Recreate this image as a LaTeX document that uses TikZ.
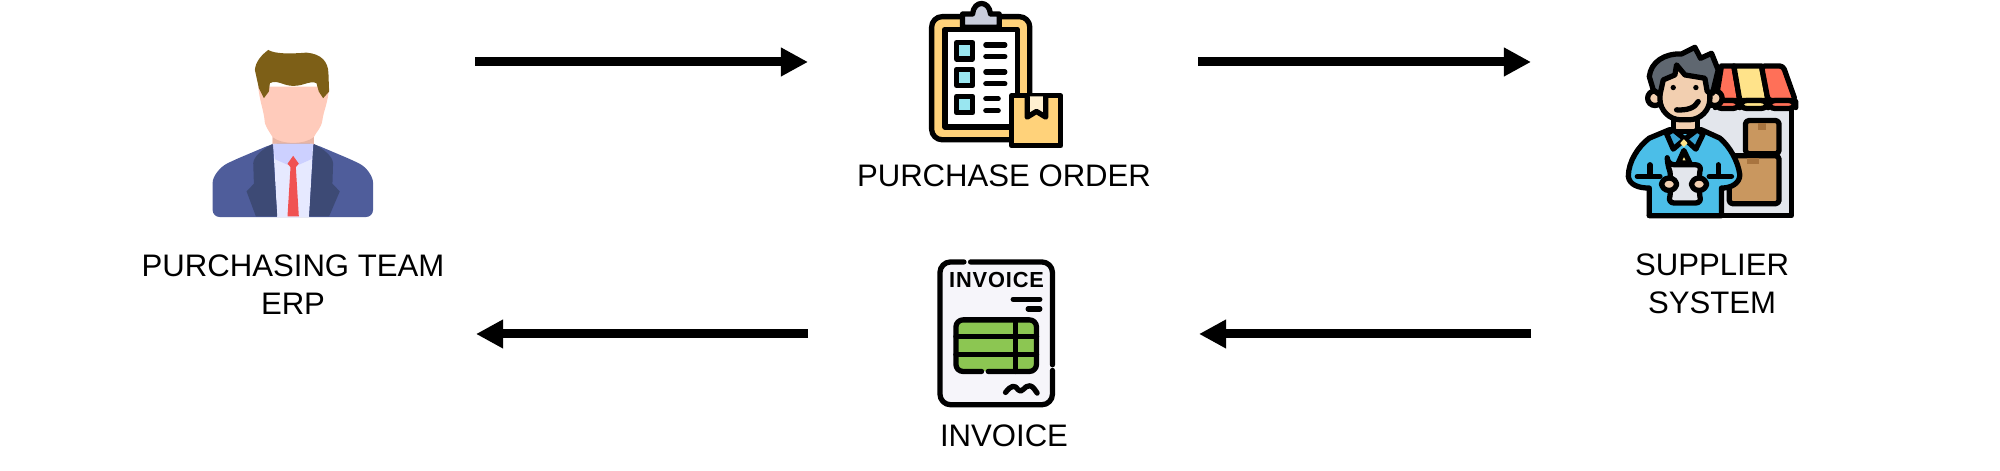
\documentclass[tikz,border=0pt]{standalone}
\usepackage{fontspec}
\setmainfont{Liberation Sans}
\usetikzlibrary{arrows.meta}
\definecolor{hairbrown}{HTML}{7D5F17}
\definecolor{skin}{HTML}{FFCBBB}
\definecolor{skindark}{HTML}{E8B5A5}
\definecolor{jacket}{HTML}{4F5D9B}
\definecolor{lapel}{HTML}{3D4A75}
\definecolor{shirt}{HTML}{E6E9FF}
\definecolor{collar}{HTML}{CCD0FF}
\definecolor{tiered}{HTML}{F05252}
\definecolor{boardyellow}{HTML}{FFD27A}
\definecolor{clipgrey}{HTML}{C9CDDC}
\definecolor{tickcyan}{HTML}{99E6F0}
\definecolor{tapecream}{HTML}{FFF0D0}
\definecolor{wallgrey}{HTML}{E3E6EC}
\definecolor{awningred}{HTML}{FF7058}
\definecolor{awningyellow}{HTML}{FFE38A}
\definecolor{cardboard}{HTML}{C9975F}
\definecolor{cardboarddark}{HTML}{A8743F}
\definecolor{shirtblue}{HTML}{4BBEE8}
\definecolor{collarblue}{HTML}{3AA5D5}
\definecolor{hairgrey}{HTML}{5F6770}
\definecolor{skintan}{HTML}{F2CFB0}
\definecolor{paperwhite}{HTML}{F6F5FA}
\definecolor{tablegreen}{HTML}{8CC652}
\tikzset{
  flow/.style = {line width = 2.56pt, -{Triangle[length = 7.7pt, width = 7.7pt]}},
  label/.style = {font = \fontsize{8.85}{10.8}\selectfont, align = center, inner sep = 0pt},
  ink/.style = {draw = black, line width = 1.5pt, line join = round, line cap = round},
  zoomed/.style = {x = .00333cm, y = -.00333cm}
}

\begin{document}
\begin{tikzpicture}[x = .01cm, y = -.01cm]
  \useasboundingbox (0, 0) rectangle (2000, 471);

  % purchasing team
  \begin{scope}[shift = {(190, 30)}, zoomed]
    \fill[skin] (205, 170) .. controls (210, 220) and (222, 240) .. (225, 280)
    .. controls (232, 300) and (245, 315) .. (248, 322) -- (248, 350) -- (372, 350)
    -- (372, 322) .. controls (380, 305) and (395, 295) .. (398, 270)
    .. controls (402, 240) and (415, 220) .. (418, 170) -- cycle;
    \fill[skindark] (248, 322) .. controls (275, 345) and (345, 345) .. (372, 322)
    -- (372, 345) -- (248, 345) -- cycle;
    \fill[hairbrown] (235, 60) .. controls (255, 72) and (300, 72) .. (350, 68)
    .. controls (395, 72) and (415, 95) .. (416, 130) -- (418, 185) -- (400, 205)
    -- (387, 185) -- (380, 160) .. controls (360, 150) and (345, 168) .. (310, 168)
    .. controls (280, 168) and (262, 148) .. (240, 160) -- (237, 185) -- (222, 205)
    -- (207, 175) -- (195, 120) .. controls (197, 95) and (215, 75) .. (235, 60) -- cycle;
    \fill[jacket, rounded corners = 2pt] (248, 342) -- (130, 392)
    .. controls (90, 412) and (68, 440) .. (68, 480) -- (68, 562) -- (550, 562)
    -- (550, 480) .. controls (550, 440) and (530, 412) .. (490, 392) -- (372, 342) -- cycle;
    \fill[shirt] (250, 342) -- (262, 562) -- (358, 562) -- (370, 342) -- cycle;
    \fill[collar] (250, 342) -- (255, 388) -- (293, 405) -- (310, 378) -- (327, 405)
    -- (365, 388) -- (370, 342) -- cycle;
    \fill[lapel] (248, 342) -- (262, 560) -- (198, 560) -- (170, 485) -- (192, 462)
    -- (190, 400) .. controls (192, 380) and (215, 360) .. (248, 342) -- cycle;
    \fill[lapel] (372, 342) -- (358, 560) -- (418, 560) -- (450, 485) -- (428, 462)
    -- (430, 400) .. controls (428, 380) and (405, 360) .. (372, 342) -- cycle;
    \fill[tiered] (310, 378) -- (327, 402) -- (318, 412) -- (327, 560) -- (293, 560)
    -- (302, 412) -- (293, 402) -- cycle;
  \end{scope}

  % purchase order
  \begin{scope}[shift = {(900, 0)}, zoomed]
    \draw[ink, fill = boardyellow, rounded corners = 3pt] (95, 50) rectangle (390, 420);
    \draw[ink, fill = white] (135, 88) rectangle (352, 382);
    \draw[ink, fill = clipgrey] (188, 82) -- (188, 42) -- (218, 42)
    .. controls (222, 0) and (268, 0) .. (272, 42) -- (298, 42) -- (298, 82) -- cycle;
    \foreach \ytop in {128, 208, 290} {
      \draw[ink, fill = tickcyan] (170, \ytop) rectangle (218, \ytop + 49);
    }
    \foreach \yline/\xend in {135/315, 170/315, 216/315, 252/315, 297/295, 333/295} {
      \draw[ink] (258, \yline) -- (\xend, \yline);
    }
    \draw[ink, fill = boardyellow] (335, 288) rectangle (483, 438);
    \draw[ink, fill = tapecream] (382, 290) -- (382, 352) -- (410, 335) -- (438, 352) -- (438, 290);
  \end{scope}

  % supplier
  \begin{scope}[shift = {(1610, 30)}, zoomed]
    \draw[ink, fill = wallgrey] (285, 228) -- (545, 228) -- (545, 558) -- (118, 558);
    \draw[ink, fill = awningred] (335, 108) -- (372, 108) -- (390, 212) -- (318, 212) -- cycle;
    \draw[ink, fill = awningyellow] (372, 108) -- (455, 108) -- (475, 212) -- (390, 212) -- cycle;
    \draw[ink, fill = awningred, rounded corners = 1pt] (455, 108) -- (520, 108) -- (557, 212) -- (475, 212) -- cycle;
    \draw[ink, fill = awningred, rounded corners = 2pt] (316, 212) rectangle (390, 236);
    \draw[ink, fill = awningyellow, rounded corners = 2pt] (390, 212) rectangle (475, 236);
    \draw[ink, fill = awningred, rounded corners = 2pt] (475, 212) rectangle (558, 236);
    \draw[ink, fill = cardboard, rounded corners = 1pt] (407, 272) rectangle (508, 372);
    \draw[ink, fill = cardboard, rounded corners = 1pt] (358, 378) rectangle (508, 522);
    \fill[cardboarddark] (446, 280) rectangle (468, 300);
    \fill[cardboarddark] (412, 384) rectangle (448, 402);
    % person in front
    \draw[ink, fill = shirtblue] (178, 300) -- (118, 325) .. controls (85, 350) and (55, 395) .. (55, 440)
    .. controls (58, 465) and (85, 475) .. (118, 475) -- (118, 558) -- (335, 558) -- (335, 475)
    .. controls (365, 475) and (390, 460) .. (390, 435) .. controls (385, 395) and (360, 350) .. (330, 325)
    -- (275, 300) -- cycle;
    \draw[ink, fill = skintan] (190, 265) rectangle (262, 305);
    \draw[ink, fill = collarblue] (170, 312) -- (190, 300) -- (225, 328) -- (190, 358) -- cycle;
    \draw[ink, fill = collarblue] (280, 312) -- (262, 300) -- (225, 328) -- (258, 358) -- cycle;
    \draw[ink, fill = awningyellow] (222, 362) -- (205, 400) -- (240, 400) -- cycle;
    \draw[ink, fill = skintan] (135, 205) circle[radius = 22];
    \draw[ink, fill = skintan] (315, 205) circle[radius = 22];
    \draw[ink, fill = skintan, rounded corners = 6pt] (150, 110) rectangle (300, 270);
    \draw[ink, fill = hairgrey] (118, 140) .. controls (123, 95) and (165, 70) .. (215, 72)
    -- (255, 52) -- (272, 85) -- (305, 70) -- (325, 120) -- (308, 190) -- (292, 185)
    -- (285, 145) -- (225, 135) -- (200, 105) -- (195, 135) -- (160, 150) -- (150, 195)
    -- (130, 180) -- cycle;
    \fill (190, 173) circle[radius = 8];
    \fill (258, 173) circle[radius = 8];
    \draw[ink] (200, 240) .. controls (230, 242) and (255, 235) .. (265, 215);
    \fill[awningyellow] (222, 328) -- (233, 340) -- (222, 352) -- (211, 340) -- cycle;
    \draw[ink, fill = wallgrey, rounded corners = 2pt] (172, 405) -- (278, 405)
    .. controls (268, 430) and (268, 495) .. (278, 520) -- (172, 520)
    .. controls (182, 495) and (182, 430) .. (172, 405) -- cycle;
    \draw[ink, fill = skintan, rounded corners = 2pt] (155, 445) rectangle (200, 482);
    \draw[ink, fill = skintan, rounded corners = 2pt] (245, 445) rectangle (290, 482);
    \draw[ink] (82, 440) -- (150, 440) (120, 405) -- (120, 440);
    \draw[ink] (298, 440) -- (365, 440) (325, 405) -- (325, 440);
  \end{scope}

  % invoice
  \begin{scope}[shift = {(920, 250)}, zoomed]
    \fill[paperwhite, rounded corners = 3pt] (60, 36) rectangle (398, 465);
    \draw[ink, rounded corners = 3pt] (132, 36) -- (60, 36) -- (60, 465) -- (398, 465) -- (398, 362);
    \draw[ink, rounded corners = 3pt] (152, 36) -- (398, 36) -- (398, 345);
    \fill[tablegreen] (108, 210) rectangle (350, 365);
    \draw[ink, rounded corners = 2pt] (185, 365) -- (108, 365) -- (108, 210) -- (350, 210) -- (350, 365) -- (205, 365);
    \draw[ink] (108, 260) -- (350, 260) (108, 315) -- (350, 315) (287, 210) -- (287, 365);
    \draw[ink] (280, 148) -- (360, 148) (325, 177) -- (360, 177);
    \draw[ink] (257, 428) .. controls (275, 405) and (285, 405) .. (295, 420)
    .. controls (305, 435) and (315, 405) .. (330, 408) .. controls (340, 410) and (345, 420) .. (352, 430);
    \node[font = \fontsize{6.2}{7}\selectfont\bfseries\addfontfeature{LetterSpace = 4}, inner sep = 0pt]
    (InvoiceTitle) at (230, 90) {INVOICE};
  \end{scope}

  % labels
  \node[label] (Team) at (293, 285) {PURCHASING TEAM\\ERP};
  \node[label] (Order) at (1004, 176) {PURCHASE ORDER};
  \node[label] (Supplier) at (1712, 284) {SUPPLIER\\SYSTEM};
  \node[label] (Invoice) at (1004, 436) {INVOICE};

  % arrows
  \coordinate (A1) at (475, 62);
  \coordinate (A2) at (808, 62);
  \coordinate (A3) at (1198, 62);
  \coordinate (A4) at (1531, 62);
  \coordinate (B1) at (1531, 334);
  \coordinate (B2) at (1199, 334);
  \coordinate (B3) at (808, 334);
  \coordinate (B4) at (476, 334);
  \draw[flow] (A1) -- (A2);
  \draw[flow] (A3) -- (A4);
  \draw[flow] (B1) -- (B2);
  \draw[flow] (B3) -- (B4);
\end{tikzpicture}
\end{document}
